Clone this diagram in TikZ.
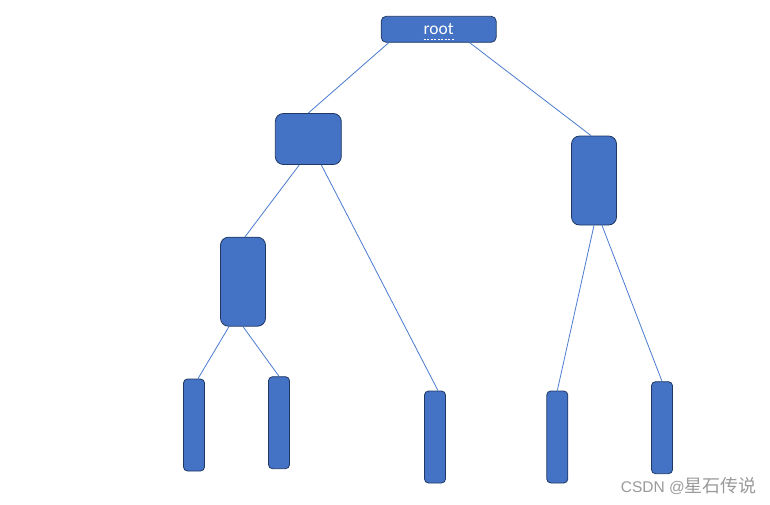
\documentclass[tikz,border=0pt]{standalone}
\usepackage{fontspec}
\setmainfont{Carlito}
\newfontfamily\latimarca{Liberation Sans}
\newfontfamily\cjk{Noto Sans CJK SC}
\definecolor{azul}{HTML}{4472C4}
\definecolor{contorno}{HTML}{1F3864}
\definecolor{linha}{HTML}{4A7BD0}
\definecolor{cinza}{HTML}{9A9A9A}
\begin{document}
\begin{tikzpicture}[
  x=1pt, y=-1pt,
  every node/.style={inner sep=0pt, font=\fontsize{17.5}{19}\selectfont},
  ramo/.style={draw=linha, line width=0.8pt}
]
\tikzset{
  caixa/.style={draw=contorno, fill=azul, line width=0.8pt},
  raiz/.style={caixa, minimum width=115, minimum height=26, rounded corners=5, text=white},
  bloco/.style={caixa, minimum width=66, minimum height=51, rounded corners=8},
  alto/.style={caixa, minimum width=45, minimum height=89, rounded corners=8},
  folha/.style={caixa, minimum width=21, minimum height=92, rounded corners=4}
}
\useasboundingbox (0,0) rectangle (770,504);
\node[raiz] (r) at (438.7,29.3) {root};
\draw[white, line width=0.6pt, dash pattern=on 2pt off 1.5pt]
  ([xshift=-15,yshift=-9.5]r.center) -- ([xshift=15,yshift=-9.5]r.center); % sublinhado do corretor
\node[bloco] (e) at (308.3,139) {};
\node[alto] (d) at (594,180.5) {};
\node[alto] (ee) at (243,281.7) {};
\node[folha] (f1) at (194,425) {};
\node[folha] (f2) at (279,422.7) {};
\node[folha] (f3) at (435,437) {};
\node[folha] (f4) at (557.3,437) {};
\node[folha] (f5) at (662,427.7) {};
\draw[ramo] ([xshift=-50]r.south) -- (e.north);
\draw[ramo] ([xshift=31]r.south) -- ([xshift=-3]d.north);
\draw[ramo] ([xshift=-9]e.south) -- ([xshift=2]ee.north);
\draw[ramo] ([xshift=13]e.south) -- ([xshift=3]f3.north);
\draw[ramo] ([xshift=-14]ee.south) -- ([xshift=4]f1.north);
\draw[ramo] (ee.south) -- (f2.north);
\draw[ramo] (d.south) -- (f4.north);
\draw[ramo] ([xshift=8]d.south) -- (f5.north);
\node[anchor=east, text=cinza] (marca) at (757,486)
  {\latimarca\fontsize{15.5}{17}\selectfont CSDN @\cjk\fontsize{18}{19}\selectfont 星石传说};
\end{tikzpicture}
\end{document}
